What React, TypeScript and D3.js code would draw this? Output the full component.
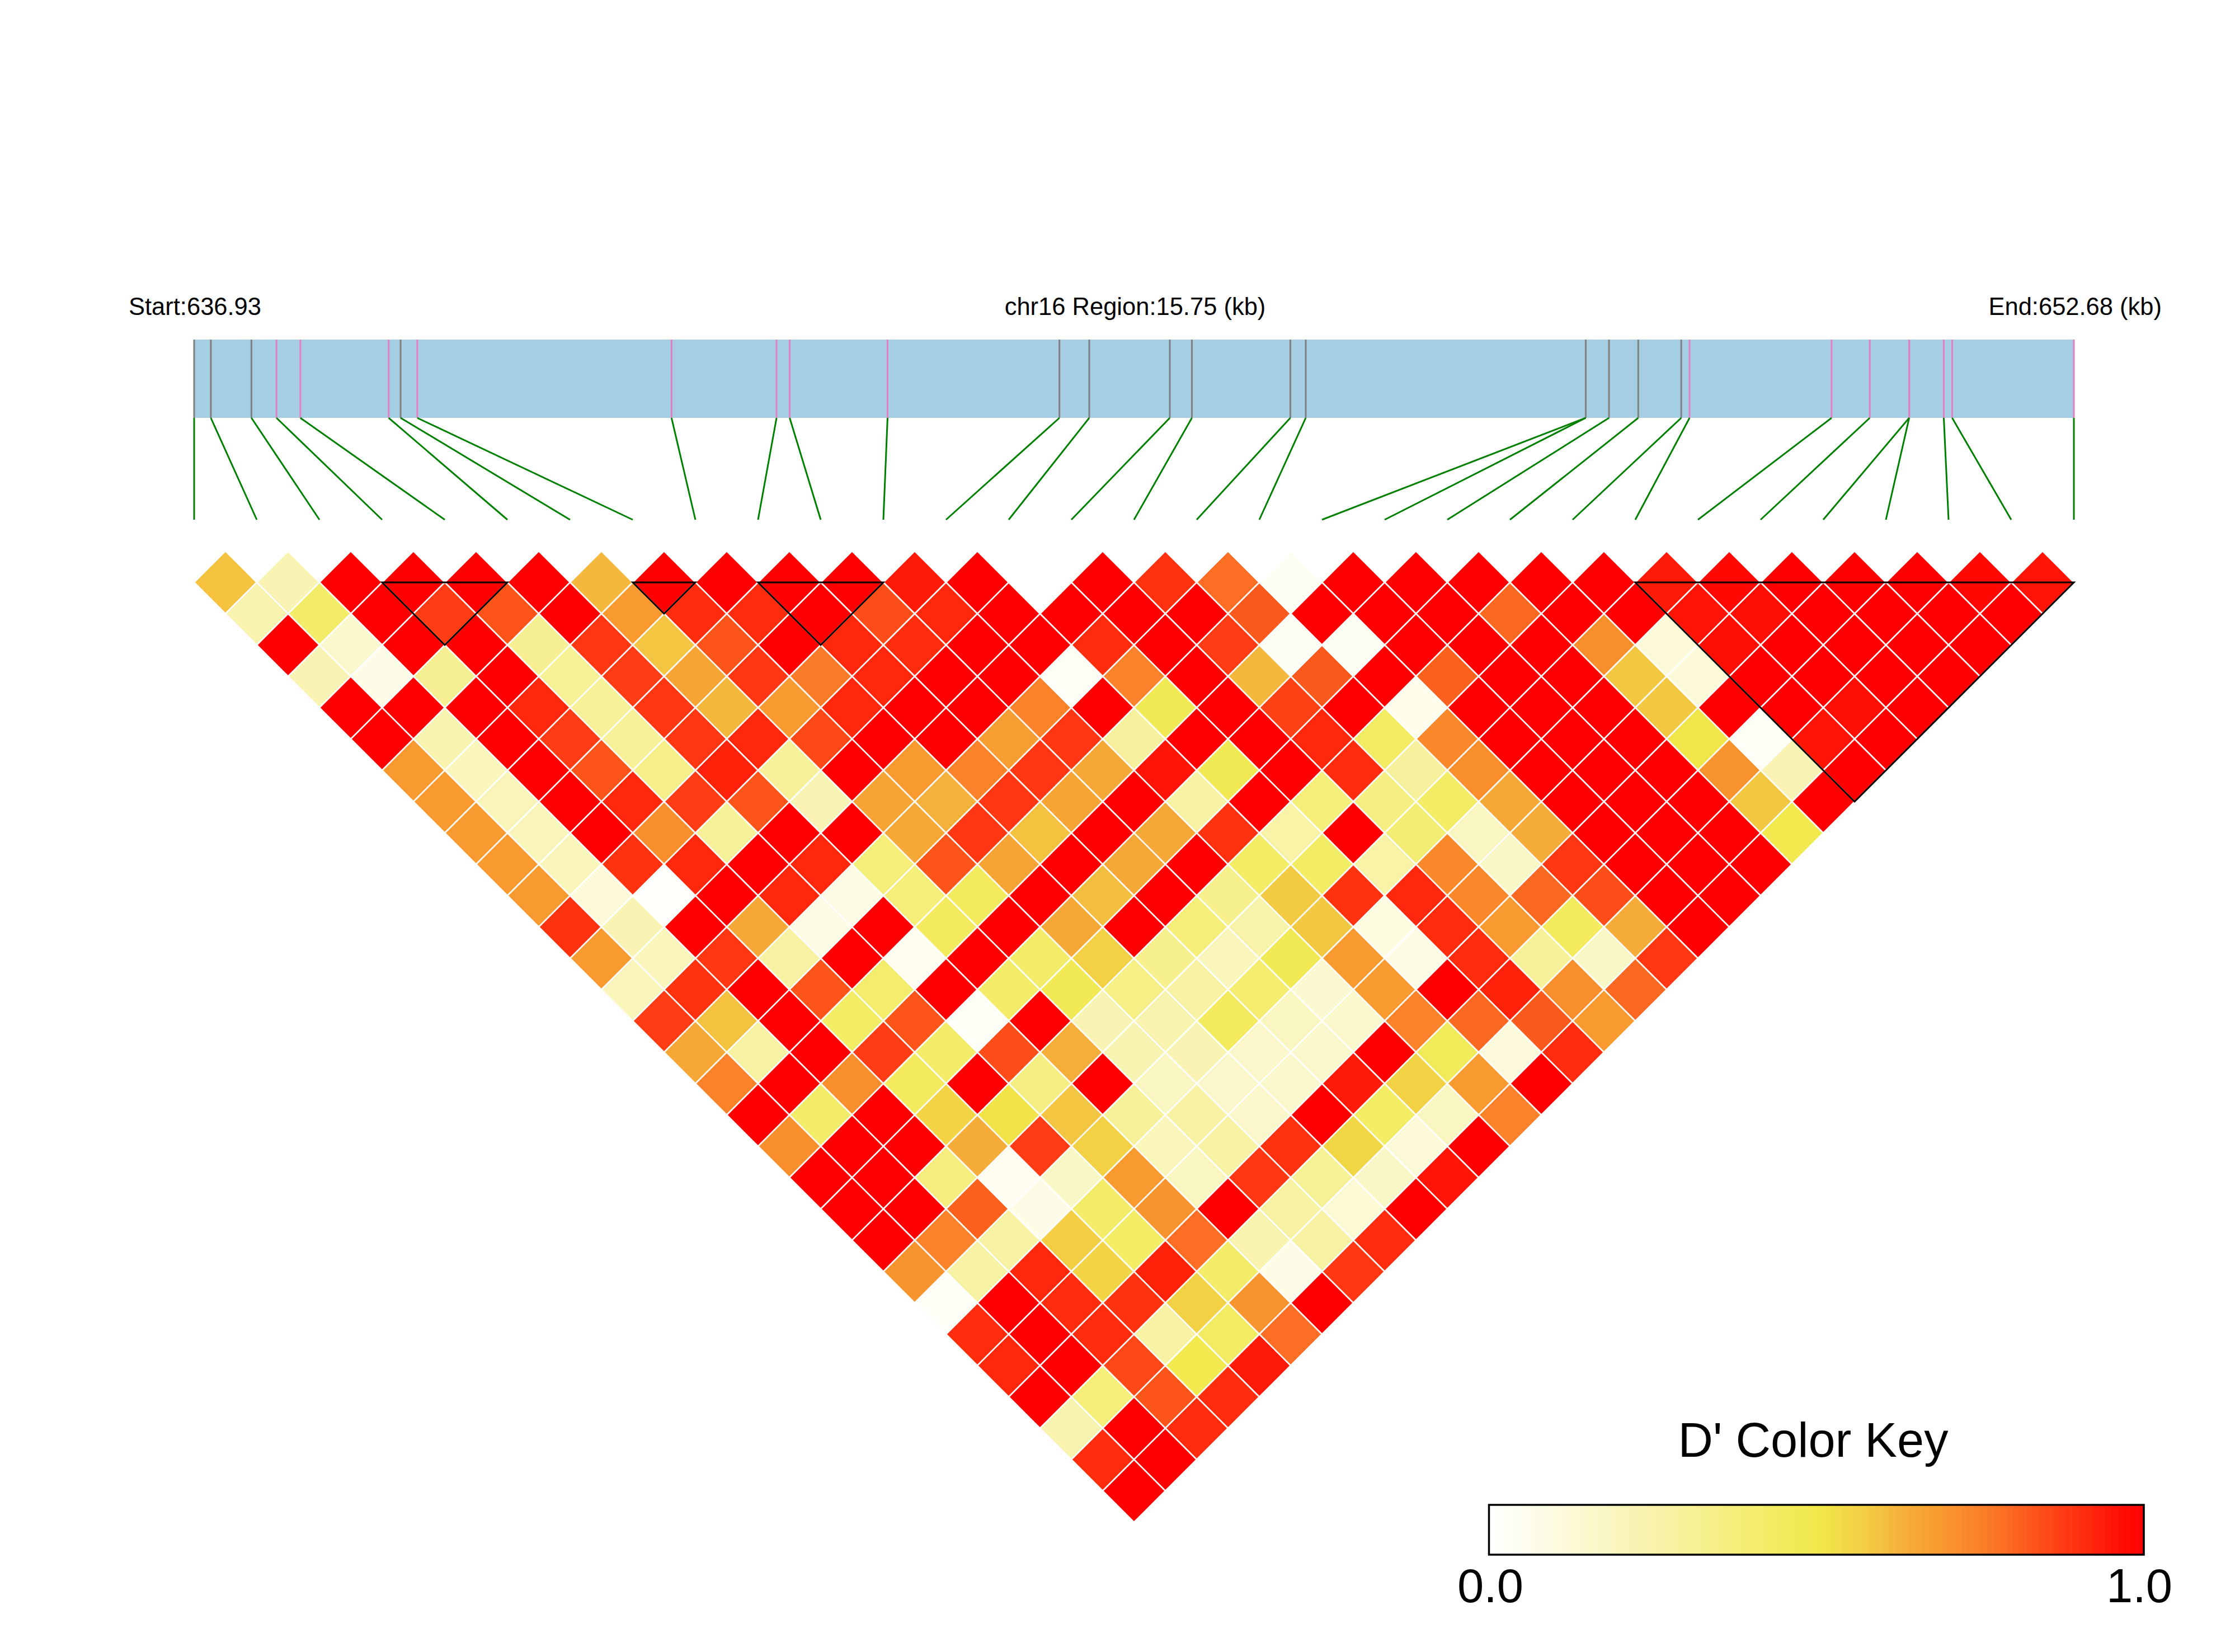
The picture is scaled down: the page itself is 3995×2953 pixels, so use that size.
import React from "react";
import * as d3 from "d3";

// ---- Data ----
const startKb = 636.93;
const endKb = 652.68;
const startLabel = "Start:636.93";
const regionLabel = "chr16 Region:15.75 (kb)";
const endLabel = "End:652.68 (kb)";
const keyTitle = "D' Color Key";
const keyTicks = ["0.0", "1.0"];

const snpKb = [
  636.93, 637.07, 637.41, 637.62, 637.82, 638.56, 638.66, 638.8, 640.93, 641.81, 641.92,
  642.74, 644.18, 644.43, 645.105, 645.29, 646.115, 646.244, 648.59, 648.59, 648.785,
  649.03, 649.39, 649.46, 650.65, 650.97, 651.3, 651.3, 651.59, 651.66, 652.68,
];
// 0 = grey tick, 1 = pink tick
const snpClass = [0, 0, 0, 1, 1, 1, 0, 1, 1, 1, 1, 1, 0, 0, 0, 0, 0, 0, 0, 0, 0, 0, 0, 1, 1, 1, 1, 1, 1, 1, 1];

// Cell colour level x 100, one list per distance between SNPs
const row01 = [63, 22, 100, 100, 100, 100, 66, 100, 100, 100, 100, 96, 100, 0, 100, 92, 82, 4, 100, 100, 100, 100, 100, 96, 99, 100, 100, 100, 99, 97];
const row02 = [24, 42, 100, 90, 86, 100, 75, 93, 93, 100, 87, 94, 100, 100, 100, 100, 85, 100, 100, 100, 83, 100, 100, 97, 98, 100, 100, 100, 100];
const row03 = [100, 15, 100, 100, 32, 91, 62, 86, 100, 94, 93, 100, 100, 93, 100, 90, 4, 4, 100, 100, 100, 77, 12, 98, 100, 100, 100, 100];
const row04 = [22, 8, 32, 100, 31, 90, 72, 91, 80, 94, 100, 100, 3, 79, 100, 66, 85, 100, 84, 100, 100, 61, 12, 100, 100, 100, 100];
const row05 = [100, 100, 100, 94, 30, 91, 66, 75, 94, 100, 100, 79, 100, 47, 100, 89, 100, 6, 100, 100, 100, 61, 100, 100, 98, 100];
const row06 = [100, 24, 100, 90, 30, 91, 94, 88, 100, 100, 74, 91, 29, 100, 100, 94, 44, 78, 100, 100, 100, 51, 3, 97, 100];
const row07 = [75, 20, 100, 86, 34, 95, 30, 100, 75, 79, 91, 71, 97, 47, 100, 93, 29, 77, 100, 100, 100, 76, 22, 100];
const row08 = [75, 21, 100, 94, 90, 86, 22, 72, 68, 91, 72, 100, 27, 100, 38, 36, 43, 71, 100, 100, 100, 61, 100];
const row09 = [75, 20, 100, 77, 30, 100, 100, 71, 91, 63, 100, 71, 92, 26, 100, 39, 18, 70, 100, 100, 100, 49];
const row10 = [75, 20, 92, 94, 100, 94, 38, 86, 72, 100, 71, 100, 43, 43, 26, 78, 17, 91, 100, 100, 100];
const row11 = [75, 12, 1, 100, 94, 9, 38, 45, 100, 64, 100, 33, 60, 92, 94, 78, 83, 87, 100, 100];
const row12 = [92, 22, 100, 71, 9, 100, 45, 100, 71, 100, 38, 25, 61, 10, 93, 75, 45, 70, 100];
const row13 = [75, 20, 91, 28, 100, 5, 100, 42, 58, 33, 20, 47, 75, 9, 93, 30, 17, 91];
const row14 = [20, 92, 100, 86, 41, 100, 42, 47, 35, 27, 40, 14, 75, 100, 95, 77, 83];
const row15 = [90, 63, 100, 43, 86, 3, 100, 22, 24, 45, 18, 15, 79, 83, 85, 75];
const row16 = [71, 28, 100, 90, 42, 87, 69, 23, 22, 16, 15, 100, 46, 11, 93];
const row17 = [79, 100, 77, 45, 100, 36, 100, 18, 16, 15, 96, 58, 75, 100];
const row18 = [100, 42, 100, 57, 52, 62, 30, 27, 16, 100, 43, 18, 79];
const row19 = [77, 100, 100, 70, 90, 58, 20, 27, 92, 56, 12, 100];
const row20 = [100, 100, 37, 5, 17, 75, 19, 91, 31, 17, 97];
const row21 = [100, 100, 84, 8, 42, 76, 100, 28, 13, 100];
const row22 = [100, 79, 27, 59, 43, 82, 24, 28, 93];
const row23 = [76, 27, 94, 57, 95, 42, 8, 91];
const row24 = [3, 100, 93, 92, 58, 76, 100];
const row25 = [93, 100, 93, 27, 44, 82];
const row26 = [94, 100, 88, 49, 96];
const row27 = [100, 38, 86, 93];
const row28 = [24, 100, 93];
const row29 = [93, 100];
const row30 = [100];
const rows = [
  row01, row02, row03, row04, row05, row06, row07, row08, row09, row10,
  row11, row12, row13, row14, row15, row16, row17, row18, row19, row20,
  row21, row22, row23, row24, row25, row26, row27, row28, row29, row30,
];

// LD blocks as first/last SNP index
const blockFirst = [3, 7, 9, 23];
const blockLast = [5, 8, 11, 30];

const colorStops = [0, 10, 20, 30, 40, 50, 60, 70, 75, 80, 85, 90, 95, 100];
const colorValues = [
  "#ffffff", "#fdfbe0", "#f9f5bb", "#f7f19a", "#f4ed70", "#f1e94a", "#f3cb42",
  "#f5ac38", "#f89a30", "#fa7c28", "#fc5a1c", "#ff3c14", "#ff220a", "#ff0000",
];
// Position along the colour key (%) at which each colour level was read
const keyPositions = [0, 50, 58, 64, 69, 80, 87.6, 95, 100];
const keyLevels = [0, 50, 60, 70, 75, 83, 90, 97, 100];
const keySteps = d3.range(0, 100);

// ---- Layout ----
const W = 3995;
const H = 2953;
const X0 = 347;
const X1 = 3707;
const BAR_TOP = 607;
const BAR_BOTTOM = 747;
const LINE_BOTTOM = 929;
const ROW_Y0 = 1041;
const FONT = "'Liberation Sans', Arial, sans-serif";

const xGenome = d3.scaleLinear().domain([startKb, endKb]).range([X0, X1]);
const xIndex = d3.scaleLinear().domain([0, snpKb.length - 1]).range([X0, X1]);
const step = xIndex(1) - xIndex(0);
const half = step / 2;
const yDistance = d3.scaleLinear().domain([1, 2]).range([ROW_Y0, ROW_Y0 + half]);
const color = d3.scaleLinear<string>().domain(colorStops).range(colorValues).interpolate(d3.interpolateRgb);
const keyLevel = d3.scaleLinear().domain(keyPositions).range(keyLevels);
const keyX = d3.scaleLinear().domain([0, 100]).range([2661.5, 3832]);

const poly = (pts: [number, number][]) => {
  const p = d3.path();
  pts.forEach((q, i) => (i ? p.lineTo(q[0], q[1]) : p.moveTo(q[0], q[1])));
  p.closePath();
  return p.toString();
};

export default function App() {
  return (
    <svg width={W} height={H} viewBox={`0 0 ${W} ${H}`} style={{ position: "absolute", left: 0, top: 0, background: "#fff" }} fontFamily={FONT}>
      <text x={230} y={563} fontSize={43.5}>{startLabel}</text>
      <text x={2029} y={563} fontSize={43.5} textAnchor="middle">{regionLabel}</text>
      <text x={3864} y={563} fontSize={43.5} textAnchor="end">{endLabel}</text>

      <rect x={xGenome(startKb)} y={BAR_TOP} width={xGenome(endKb) - xGenome(startKb)} height={BAR_BOTTOM - BAR_TOP} fill="#a6cee3" />
      {snpKb.map((kb, i) => (
        <line key={`t${i}`} x1={xGenome(kb)} x2={xGenome(kb)} y1={BAR_TOP} y2={BAR_BOTTOM} stroke={snpClass[i] ? "#e37fc0" : "#808080"} strokeWidth={3} />
      ))}
      {snpKb.map((kb, i) => (
        <line key={`g${i}`} x1={xGenome(kb)} x2={xIndex(i)} y1={BAR_BOTTOM} y2={LINE_BOTTOM} stroke="#008000" strokeWidth={3} />
      ))}

      <g stroke="#ffffff" strokeWidth={2.5}>
        {rows.map((row, r) =>
          row.map((v, i) => {
            const d = r + 1;
            const cx = xIndex(i + d / 2);
            const cy = yDistance(d);
            return (
              <path
                key={`c${d}-${i}`}
                d={poly([[cx, cy - half], [cx + half, cy], [cx, cy + half], [cx - half, cy]])}
                fill={color(v)}
              />
            );
          })
        )}
      </g>

      <g fill="none" stroke="#000000" strokeWidth={3}>
        {blockFirst.map((a, i) => {
          const b = blockLast[i];
          return (
            <path
              key={`b${i}`}
              d={poly([[xIndex(a), ROW_Y0], [xIndex(b), ROW_Y0], [xIndex((a + b) / 2), yDistance(b - a) + half]])}
            />
          );
        })}
      </g>

      <text x={3241} y={2604} fontSize={86.5} textAnchor="middle">{keyTitle}</text>
      {keySteps.map((k) => (
        <rect key={`k${k}`} x={keyX(k)} y={2690} width={keyX(k + 1) - keyX(k) + 0.5} height={89} fill={color(keyLevel(k + 0.5))} />
      ))}
      <rect x={keyX(0)} y={2690} width={keyX(100) - keyX(0)} height={89} fill="none" stroke="#000" strokeWidth={3.5} />
      <text x={2664} y={2864} fontSize={85} textAnchor="middle">{keyTicks[0]}</text>
      <text x={3824} y={2864} fontSize={85} textAnchor="middle">{keyTicks[1]}</text>
    </svg>
  );
}
